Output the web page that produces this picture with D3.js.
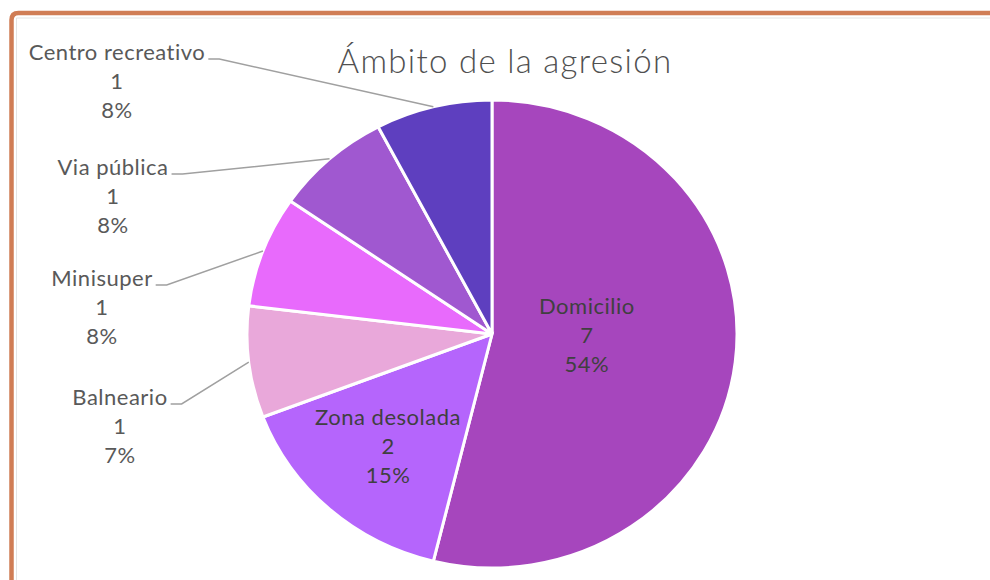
<!DOCTYPE html>
<html>
<head>
<meta charset="utf-8">
<script src="https://cdn.jsdelivr.net/npm/d3@7"></script>
<style>
  body { margin: 0; background: #fff; }
  svg { display: block; font-family: Lato, "Open Sans", sans-serif; }
</style>
</head>
<body>
<div class="chart"></div>
<script>
// --- data
const categories = ["Domicilio", "Zona desolada", "Balneario", "Minisuper", "Via pública", "Centro recreativo"];
const values     = [7, 2, 1, 1, 1, 1];
const percents   = ["54%", "15%", "7%", "8%", "8%", "8%"];
const colors     = ["#a646bd", "#b565fc", "#e9a8da", "#e86afc", "#a058d0", "#5e3fbf"];

// labels that sit outside the pie (text centre x, first line y)
const outside = {
    "Balneario":         [120, 397],
    "Minisuper":         [102, 278],
    "Via pública":       [113, 167],
    "Centro recreativo": [117, 52]
};
// labels inside the pie: fraction of the radius along the slice middle, vertical nudge
const inside = {
    "Domicilio":     [0.39, -10],
    "Zona desolada": [0.64, 0]
};

const width = 990, height = 580;
const cx = 492, cy = 334, ry = 234, rx = 245;
const sx = rx / ry;

const svg = d3.select(".chart").append("svg")
    .attr("width", width)
    .attr("height", height);

// --- frame
svg.append("path")
    .attr("d", "M11.5," + height + " V20 Q11.5,13 18.5,13 H" + width)
    .attr("fill", "none")
    .attr("stroke", "#d07d55")
    .attr("stroke-width", 4.5);
svg.append("path")
    .attr("d", "M16.5," + height + " V18 H" + width)
    .attr("fill", "none")
    .attr("stroke", "#e4e4e4")
    .attr("stroke-width", 1);

// --- title
svg.append("text")
    .attr("x", 505)
    .attr("y", 73)
    .attr("text-anchor", "middle")
    .attr("font-size", "33px")
    .attr("font-weight", 300)
    .attr("letter-spacing", "1.3px")
    .attr("fill", "#505050")
    .text("Ámbito de la agresión");

// --- pie
const data = categories.map((c, i) => ({name: c, value: values[i], pct: percents[i], color: colors[i]}));
const pie = d3.pie().sort(null).value(d => d.value);
const arcs = pie(data);
const arc = d3.arc().innerRadius(0).outerRadius(ry);

const g = svg.append("g")
    .attr("transform", "translate(" + cx + "," + cy + ") scale(" + sx + ",1)");

g.selectAll("path")
    .data(arcs)
    .enter().append("path")
    .attr("d", arc)
    .attr("fill", d => d.data.color)
    .attr("stroke", "#fff")
    .attr("stroke-width", 3)
    .attr("vector-effect", "non-scaling-stroke");

function edgePoint(d, k) {
    const a = (d.startAngle + d.endAngle) / 2;
    return [cx + rx * k * Math.sin(a), cy - ry * k * Math.cos(a)];
}

const lineH = 29;

arcs.forEach(function(d) {
    const lines = [d.data.name, d.data.value, d.data.pct];
    const pos = outside[d.data.name];
    let tx, ty, fill;
    if (pos) {
        tx = pos[0]; ty = pos[1]; fill = "#595959";
    } else {
        const ins = inside[d.data.name];
        const p = edgePoint(d, ins[0]);
        tx = p[0]; ty = p[1] - lineH + ins[1]; fill = "#404040";
    }
    const t = svg.append("text")
        .attr("text-anchor", "middle")
        .attr("font-size", "22px")
        .attr("letter-spacing", "0.5px")
        .attr("fill", fill);
    lines.forEach(function(s, i) {
        t.append("tspan")
            .attr("x", tx)
            .attr("y", ty + i * lineH)
            .attr("dy", "0.35em")
            .text(s);
    });

    if (pos) {
        // leader line from end of first label line to slice edge
        const w = t.select("tspan").node().getComputedTextLength();
        const x0 = tx + w / 2 + 3, y0 = ty + 7;
        const end = edgePoint(d, 1);
        svg.append("polyline")
            .attr("points", [[x0, y0], [x0 + 11, y0], end].map(p => p.join(",")).join(" "))
            .attr("fill", "none")
            .attr("stroke", "#a0a0a0")
            .attr("stroke-width", 1.5);
    }
});
</script>
</body>
</html>
